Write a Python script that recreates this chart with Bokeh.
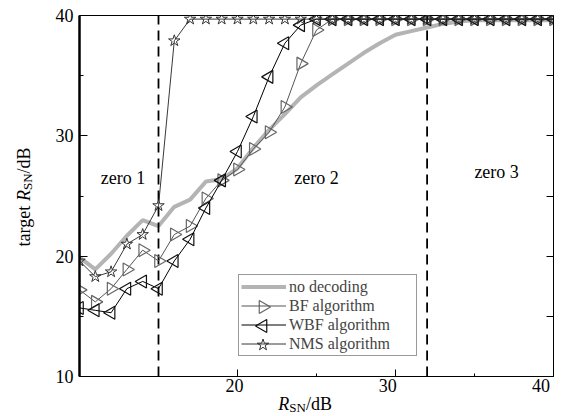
import math
from bokeh.plotting import figure
from bokeh.layouts import row, column
from bokeh.models import (Range1d, LinearAxis, FixedTicker, Legend, LegendItem,
                          ColumnDataSource)
from bokeh.embed import file_html
from bokeh.resources import INLINE
from bokeh.core.properties import value

# ---------------- data ----------------
snr = [10, 11, 12, 13, 14, 15, 16, 17, 18, 19, 20, 21, 22, 23, 24, 25,
       26, 27, 28, 29, 30, 31, 32, 33, 34, 35, 36, 37, 38, 39, 40]
no_decoding = [19.9, 18.9, 20.2, 21.7, 23.0, 22.5, 24.1, 24.7, 26.2, 26.4, 27.3,
               29.0, 30.5, 31.8, 33.2, 34.2, 35.1, 36.0, 36.9, 37.7, 38.4, 38.7,
               39.0, 39.3, 39.5, 39.6, 39.6, 39.6, 39.6, 39.6, 39.6]
bf_alg = [17.2, 16.2, 17.3, 18.9, 20.5, 19.6, 21.8, 22.5, 24.8, 26.3, 27.2,
          28.9, 30.3, 32.4, 36.0, 38.8, 39.7, 39.7, 39.7, 39.7, 39.7, 39.7,
          39.7, 39.7, 39.7, 39.7, 39.7, 39.7, 39.7, 39.7, 39.7]
wbf_alg = [15.7, 15.5, 15.3, 17.3, 17.9, 17.3, 19.6, 21.4, 24.0, 26.3, 28.7,
           31.6, 34.9, 37.7, 39.2, 39.7, 39.7, 39.7, 39.7, 39.7, 39.7, 39.7,
           39.7, 39.7, 39.7, 39.7, 39.7, 39.7, 39.7, 39.7, 39.7]
nms_alg = [19.6, 18.3, 18.7, 21.0, 21.8, 24.2, 37.9, 39.7, 39.7, 39.7, 39.7,
           39.7, 39.7, 39.7, 39.7, 39.7, 39.7, 39.7, 39.7, 39.7, 39.7, 39.7,
           39.7, 39.7, 39.7, 39.7, 39.7, 39.7, 39.7, 39.7, 39.7]

zone_bounds = [15, 32]
zone_names = ["zero 1", "zero 2", "zero 3"]
zone_x = [12.75, 25.0, 36.4]
zone_y = [26.5, 26.5, 27.0]

x_ticks = [20, 30, 40]
x_tick_labels = ["20", "30", "40"]
x_minor = [15, 25, 35]
y_ticks = [10, 20, 30, 40]
y_tick_labels = ["10", "20", "30", "40"]
y_minor = [15, 25, 35]
right_ticks = [15, 20, 25, 30, 35]

legend_labels = ["no decoding", "BF algorithm", "WBF algorithm", "NMS algorithm"]

FONT = "Liberation Serif"
FS = "18px"

# ---------------- layout constants (pixels) ----------------
W, H = 566, 416
FL, FR, FT, FB = 79, 553, 15, 376    # plot frame edges
ML, MB = 2, 1                        # small main-figure borders (axis lines)
YW = FL - ML                         # left strip: y tick labels + y title
XMIN, XMAX, YMIN, YMAX = 10, 40, 10, 40
PPX = (FR - FL) / (XMAX - XMIN)
PPY = (FB - FT) / (YMAX - YMIN)
ASC18, ASC13 = 15.0, 10.8            # baseline-to-top distances of the fonts

def clean(f):
    f.xgrid.visible = False
    f.ygrid.visible = False
    f.background_fill_color = "white"
    f.border_fill_color = "white"

# ---------------- main figure ----------------
p = figure(width=W - YW, height=FB + MB, x_range=Range1d(XMIN, XMAX),
           y_range=Range1d(YMIN, YMAX), output_backend="svg", toolbar_location=None,
           min_border_left=ML, min_border_right=W - FR, min_border_top=FT,
           min_border_bottom=MB)
clean(p)
p.outline_line_color = "black"
p.outline_line_width = 1

for ax in (p.xaxis[0], p.yaxis[0]):
    ax.axis_line_color = "black"
    ax.major_tick_line_color = "black"
    ax.minor_tick_line_color = "black"
    ax.major_tick_out = 0
    ax.minor_tick_out = 0
    ax.major_label_text_font_size = "0px"
    ax.major_label_standoff = 0

p.xaxis.ticker = FixedTicker(ticks=x_ticks, minor_ticks=x_minor)
p.xaxis.major_label_overrides = {t: "" for t in x_ticks}
p.xaxis.major_tick_in = 7
p.xaxis.minor_tick_in = 3

p.yaxis.ticker = FixedTicker(ticks=y_ticks, minor_ticks=y_minor)
p.yaxis.major_label_overrides = {t: "" for t in y_ticks}
p.yaxis.major_tick_in = 8
p.yaxis.minor_tick_in = 4
p.yaxis.axis_line_width = 2.5

raxis = LinearAxis(ticker=FixedTicker(ticks=right_ticks, minor_ticks=[]),
                   major_tick_in=7, major_tick_out=0, minor_tick_in=0, minor_tick_out=0,
                   major_label_overrides={t: "" for t in right_ticks},
                   major_label_text_font_size="0px",
                   major_label_standoff=0, axis_line_color="black")
p.add_layout(raxis, "right")

# ---------------- glyphs ----------------
r_nd = p.line(snr, no_decoding, line_color="#b4b4b4", line_width=4)

p.segment(x0=zone_bounds, y0=YMIN, x1=zone_bounds, y1=YMAX,
          line_color="black", line_width=1.8, line_dash="10 6")

BF_STYLE = dict(marker="triangle", angle=-math.pi / 2, size=13,
                line_color="#666666", line_width=1.2, fill_alpha=0)
WBF_STYLE = dict(marker="triangle", angle=math.pi / 2, size=13,
                 line_color="#111111", line_width=1.2, fill_alpha=0)
NMS_STYLE = dict(marker="star", size=12, line_color="#333333", line_width=1,
                 fill_alpha=0)

r_bf_l = p.line(snr, bf_alg, line_color="#555555", line_width=1)
p.scatter(snr, bf_alg, **BF_STYLE)
r_wbf_l = p.line(snr, wbf_alg, line_color="black", line_width=1)
p.scatter(snr, wbf_alg, **WBF_STYLE)
r_nms_l = p.line(snr, nms_alg, line_color="#222222", line_width=0.9)
p.scatter(snr, nms_alg, **NMS_STYLE)

zsrc = ColumnDataSource(dict(x=zone_x, y=zone_y, t=zone_names))
p.text(x="x", y="y", text="t", source=zsrc, text_font=value(FONT),
       text_font_size=FS, text_align="center", text_baseline="middle",
       text_color="black")

# ---------------- legend ----------------
LX, LY, LPAD, LROW, LGW = 159, 20, 2, 19, 45
legend = Legend(items=[
    LegendItem(label=legend_labels[0], renderers=[r_nd]),
    LegendItem(label=legend_labels[1], renderers=[r_bf_l]),
    LegendItem(label=legend_labels[2], renderers=[r_wbf_l]),
    LegendItem(label=legend_labels[3], renderers=[r_nms_l]),
], location=(LX, LY), margin=0, padding=LPAD, spacing=0,
    glyph_width=LGW, glyph_height=LROW, label_height=LROW, label_width=125,
    label_standoff=3, label_text_font=FONT, label_text_font_size="16px",
    border_line_color="#333333", border_line_width=1,
    background_fill_alpha=0)
p.add_layout(legend, "center")

# legend sample markers (legend cannot rotate markers, so drawn here)
top = LY + 2 * LPAD + 4 * LROW
gx = XMIN + (LX + LPAD + LGW / 2) / PPX
def row_y(i):
    return YMIN + (top - LPAD - LROW * i - LROW / 2) / PPY
p.scatter([gx], [row_y(1)], **BF_STYLE)
p.scatter([gx], [row_y(2)], **WBF_STYLE)
p.scatter([gx], [row_y(3)], **NMS_STYLE)

# ---------------- bottom strip: x tick labels + x title ----------------
XH = H - FB - MB
xf = figure(width=W - YW, height=XH, output_backend="svg", toolbar_location=None,
            x_range=Range1d(XMIN - ML / PPX, XMAX + (W - FR) / PPX),
            y_range=Range1d(0, XH), x_axis_type=None, y_axis_type=None,
            min_border=0, outline_line_color=None)
clean(xf)
xf.text(x=x_ticks, y=XH - 1, text=x_tick_labels, text_font=value(FONT),
        text_font_size=FS, text_align="center", text_baseline="top",
        text_color="black")

cx = XMIN + (310 - FL) / PPX
base_py = 408                      # page y of the title baseline
def xt(txt, off, py, size, asc, style="normal"):
    xf.text(x=[cx], y=[H - (py - asc)], text=[txt], x_offset=off,
            text_font=value(FONT), text_font_size=size, text_font_style=style,
            text_align="left", text_baseline="top", text_color="black")
xt("R", -27, base_py, FS, ASC18, "italic")
xt("SN", -27 + 11.0, base_py + 2.5, "13px", ASC13)
xt("/dB", -27 + 11.0 + 16.6, base_py, FS, ASC18)

# ---------------- left strip: y tick labels + y title ----------------
yf = figure(width=YW, height=H, output_backend="svg", toolbar_location=None,
            x_range=Range1d(0, YW),
            y_range=Range1d(YMIN - (H - FB) / PPY, YMAX + FT / PPY),
            x_axis_type=None, y_axis_type=None, min_border=0,
            outline_line_color=None)
clean(yf)
yf.text(x=YW - 4, y=y_ticks, text=y_tick_labels, text_font=value(FONT),
        text_font_size=FS, text_align="right", text_baseline="middle",
        text_color="black")

a = math.pi / 2
bx = 28                             # page x of the rotated title baseline
def page_to_y(py):
    return YMIN + (FB - py) / PPY
s0 = 246
def yt(txt, x, py, size, style="normal"):
    yf.text(x=[x], y=[page_to_y(py)], text=[txt], angle=a, text_font=value(FONT),
            text_font_size=size, text_font_style=style, text_align="left",
            text_baseline="top", text_color="black")
yt("target", bx - ASC18, s0, FS)
yt("R", bx - ASC18, s0 - 45.5, FS, "italic")
yt("SN", bx + 2.5 - ASC13, s0 - 45.5 - 11.0, "13px")
yt("/dB", bx - ASC18, s0 - 45.5 - 11.0 - 16.6, FS)

layout = row(yf, column(p, xf))
open("out.html", "w").write(file_html(layout, INLINE))
